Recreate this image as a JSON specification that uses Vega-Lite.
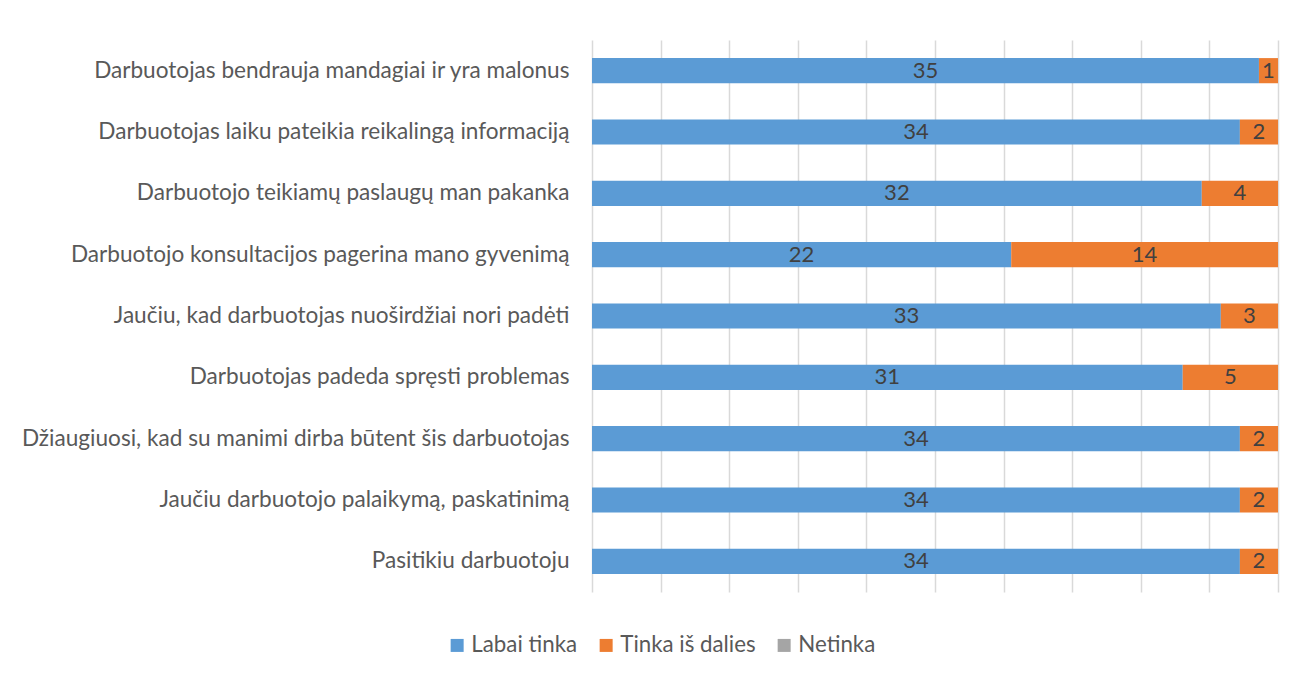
{
  "$schema": "https://vega.github.io/schema/vega-lite/v6.json",
  "autosize": {"type": "none"},
  "width": 686,
  "height": 552,
  "padding": {"left": 592, "top": 40, "right": 18, "bottom": 81},
  "background": "white",
  "config": {
    "view": {"stroke": null},
    "font": "Lato"
  },
  "data": {
    "values": [
      {"q": "Darbuotojas bendrauja mandagiai ir yra malonus", "cat": "Labai tinka", "n": 35},
      {"q": "Darbuotojas bendrauja mandagiai ir yra malonus", "cat": "Tinka iš dalies", "n": 1},
      {"q": "Darbuotojas bendrauja mandagiai ir yra malonus", "cat": "Netinka", "n": 0},
      {"q": "Darbuotojas laiku pateikia reikalingą informaciją", "cat": "Labai tinka", "n": 34},
      {"q": "Darbuotojas laiku pateikia reikalingą informaciją", "cat": "Tinka iš dalies", "n": 2},
      {"q": "Darbuotojas laiku pateikia reikalingą informaciją", "cat": "Netinka", "n": 0},
      {"q": "Darbuotojo teikiamų paslaugų man pakanka", "cat": "Labai tinka", "n": 32},
      {"q": "Darbuotojo teikiamų paslaugų man pakanka", "cat": "Tinka iš dalies", "n": 4},
      {"q": "Darbuotojo teikiamų paslaugų man pakanka", "cat": "Netinka", "n": 0},
      {"q": "Darbuotojo konsultacijos pagerina mano gyvenimą", "cat": "Labai tinka", "n": 22},
      {"q": "Darbuotojo konsultacijos pagerina mano gyvenimą", "cat": "Tinka iš dalies", "n": 14},
      {"q": "Darbuotojo konsultacijos pagerina mano gyvenimą", "cat": "Netinka", "n": 0},
      {"q": "Jaučiu, kad darbuotojas nuoširdžiai nori padėti", "cat": "Labai tinka", "n": 33},
      {"q": "Jaučiu, kad darbuotojas nuoširdžiai nori padėti", "cat": "Tinka iš dalies", "n": 3},
      {"q": "Jaučiu, kad darbuotojas nuoširdžiai nori padėti", "cat": "Netinka", "n": 0},
      {"q": "Darbuotojas padeda spręsti problemas", "cat": "Labai tinka", "n": 31},
      {"q": "Darbuotojas padeda spręsti problemas", "cat": "Tinka iš dalies", "n": 5},
      {"q": "Darbuotojas padeda spręsti problemas", "cat": "Netinka", "n": 0},
      {"q": "Džiaugiuosi, kad su manimi dirba būtent šis darbuotojas", "cat": "Labai tinka", "n": 34},
      {"q": "Džiaugiuosi, kad su manimi dirba būtent šis darbuotojas", "cat": "Tinka iš dalies", "n": 2},
      {"q": "Džiaugiuosi, kad su manimi dirba būtent šis darbuotojas", "cat": "Netinka", "n": 0},
      {"q": "Jaučiu darbuotojo palaikymą, paskatinimą", "cat": "Labai tinka", "n": 34},
      {"q": "Jaučiu darbuotojo palaikymą, paskatinimą", "cat": "Tinka iš dalies", "n": 2},
      {"q": "Jaučiu darbuotojo palaikymą, paskatinimą", "cat": "Netinka", "n": 0},
      {"q": "Pasitikiu darbuotoju", "cat": "Labai tinka", "n": 34},
      {"q": "Pasitikiu darbuotoju", "cat": "Tinka iš dalies", "n": 2},
      {"q": "Pasitikiu darbuotoju", "cat": "Netinka", "n": 0}
    ]
  },
  "encoding": {
    "y": {
      "field": "q",
      "type": "nominal",
      "sort": null,
      "title": null,
      "scale": {"paddingInner": 0.59, "paddingOuter": 0.295},
      "axis": {
        "domain": false,
        "ticks": false,
        "tickSize": 0,
        "labelPadding": 23,
        "labelFontSize": 22.6,
        "labelColor": "#595959",
        "labelFont": "Lato",
        "labelLimit": 700
      }
    },
    "x": {
      "field": "n",
      "type": "quantitative",
      "stack": "normalize",
      "title": null,
      "scale": {"domain": [0, 1], "nice": false},
      "axis": {
        "values": [0, 0.1, 0.2, 0.3, 0.4, 0.5, 0.6, 0.7, 0.8, 0.9, 1],
        "labels": false,
        "domain": false,
        "ticks": false,
        "grid": true,
        "gridColor": "#D9D9D9",
        "gridWidth": 1.5
      }
    },
    "order": {"field": "cat", "type": "nominal", "sort": "ascending"}
  },
  "layer": [
    {
      "mark": {"type": "bar"},
      "encoding": {
        "color": {
          "field": "cat",
          "type": "nominal",
          "title": null,
          "scale": {
            "domain": ["Labai tinka", "Tinka iš dalies", "Netinka"],
            "range": ["#5B9BD5", "#ED7D31", "#A5A5A5"]
          },
          "legend": {
            "orient": "none",
            "direction": "horizontal",
            "legendX": -146,
            "legendY": 594,
            "symbolType": "square",
            "symbolSize": 169,
            "symbolStrokeWidth": 0,
            "labelFontSize": 22.3,
            "labelColor": "#595959",
            "labelFont": "Lato",
            "labelOffset": 3,
            "columnPadding": 17
          }
        }
      }
    },
    {
      "transform": [{"filter": "datum.n > 0"}],
      "mark": {"type": "text", "fontSize": 22, "color": "#404040", "font": "Lato", "baseline": "middle", "align": "center"},
      "encoding": {
        "x": {"field": "n", "type": "quantitative", "stack": "normalize", "bandPosition": 0.5},
        "detail": {"field": "cat", "type": "nominal"},
        "text": {"field": "n", "type": "quantitative"}
      }
    }
  ]
}
